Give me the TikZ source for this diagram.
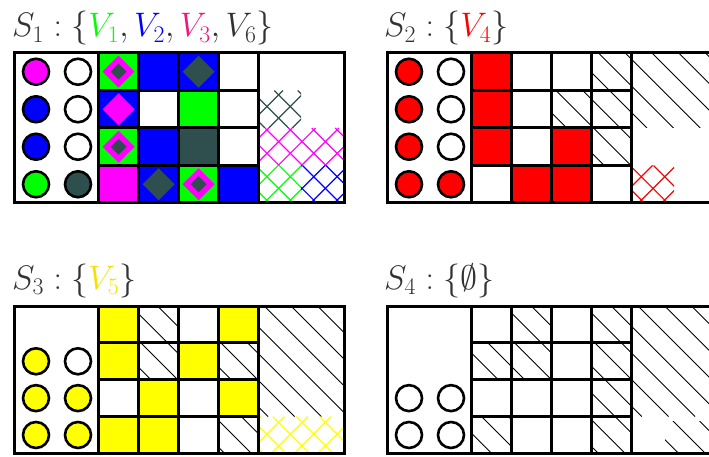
\RequirePackage{fix-cm}
\documentclass[tikz,border=0pt]{standalone}
\definecolor{vgreen}{RGB}{0,255,0}
\definecolor{vblue}{RGB}{0,0,255}
\definecolor{vmag}{RGB}{255,0,255}
\definecolor{vgray}{RGB}{47,79,79}
\definecolor{vred}{RGB}{255,0,0}
\definecolor{vyel}{RGB}{255,255,0}
\definecolor{vyeltxt}{RGB}{245,225,0}
\definecolor{vpink}{RGB}{238,24,122}
\definecolor{titlegray}{RGB}{50,50,50}

% filled grid cell: col,row,color
\newcommand\pcell[3]{\fill[#3] ({\ox+58.5+40*#1},{\oy+\rh*(#2-1)}) rectangle ++(40,\rh);}
% diamond in a cell: col,row,color,half diagonal
\newcommand\pdiam[4]{\fill[#3] ({\ox+78.5+40*#1},{\oy+\rh*(#2-0.5)}) ++(-#4,0) -- ++(#4,#4) -- ++(#4,-#4) -- ++(-#4,-#4) -- cycle;}
% ball in left region: col,row,color
\newcommand\pball[3]{\filldraw[ballstyle,fill=#3] ({\ox+36+42*(#1-1)},{\oy+\rh*(#2-0.5)}) circle (13);}
% single hatching: style,x1,y1,x2,y2
\newcommand\phatch[5]{%
  \pgfmathsetmacro\hxa{#2}\pgfmathsetmacro\hya{#3}\pgfmathsetmacro\hxb{#4}\pgfmathsetmacro\hyb{#5}%
  \pgfmathtruncatemacro\kmin{floor((\hxa-\hyb-11.6)/26.7)}%
  \pgfmathtruncatemacro\kmax{ceil((\hxb-\hya-11.6)/26.7)}%
  \begin{scope}
    \clip (\hxa,\hya) rectangle (\hxb,\hyb);
    \foreach \k in {\kmin,...,\kmax}{%
      \draw[#1] ({11.6+26.7*\k+\hya},\hya) -- ({11.6+26.7*\k+\hyb},\hyb);
    }
  \end{scope}}
% cross hatching: style,x1,y1,x2,y2
\newcommand\pcross[5]{%
  \pgfmathsetmacro\hxa{#2}\pgfmathsetmacro\hya{#3}\pgfmathsetmacro\hxb{#4}\pgfmathsetmacro\hyb{#5}%
  \pgfmathtruncatemacro\kmin{floor((\hxa-\hyb-20)/23.4)}%
  \pgfmathtruncatemacro\kmax{ceil((\hxb-\hya-20)/23.4)}%
  \pgfmathtruncatemacro\jmin{floor((\hxa+\hya-22.4)/23.4)}%
  \pgfmathtruncatemacro\jmax{ceil((\hxb+\hyb-22.4)/23.4)}%
  \begin{scope}
    \clip (\hxa,\hya) rectangle (\hxb,\hyb);
    \foreach \k in {\kmin,...,\kmax}{%
      \draw[#1] ({20+23.4*\k+\hya},\hya) -- ({20+23.4*\k+\hyb},\hyb);
    }
    \foreach \k in {\jmin,...,\jmax}{%
      \draw[#1] ({22.4+23.4*\k-\hya},\hya) -- ({22.4+23.4*\k-\hyb},\hyb);
    }
  \end{scope}}
% hatched cell: col,row
\newcommand\phcell[2]{\phatch{hatchline}{\ox+58.5+40*#1}{\oy+\rh*(#2-1)}{\ox+98.5+40*#1}{\oy+\rh*#2}}
% frame and grid of a panel
\newcommand\pframe{%
  \draw[gridline] ({\ox+14},\oy) rectangle ({\ox+344},{\oy+4*\rh});
  \foreach \c in {0,...,4}{\draw[gridline] ({\ox+98.5+40*\c},\oy) -- ++(0,{4*\rh});}
  \foreach \r in {1,2,3}{\draw[gridline] ({\ox+98.5},{\oy+\rh*\r}) -- ++(160,0);}
}

\begin{document}
\begin{tikzpicture}[x=1pt,y=-1pt,
  hatchline/.style={black,line width=0.9pt},
  crossline/.style={line width=1.2pt},
  gridline/.style={black,line width=3pt},
  ballstyle/.style={draw=black,line width=2.6pt},
  titlestyle/.style={anchor=base west,inner sep=0pt,text=titlegray,font=\fontsize{34}{40}\selectfont}]
\useasboundingbox (0,0) rectangle (709,457);
\fill[white] (0,0) rectangle (709,457);

% ---------- titles ----------
\node[titlestyle] (t1) at (12,37) {$S_1 : \{\textcolor{vgreen}{V_1}, \textcolor{vblue}{V_2}, \textcolor{vpink}{V_3}, V_6\}$};
\node[titlestyle] (t2) at (384,37) {$S_2 : \{\textcolor{vred}{V_4}\}$};
\node[titlestyle] (t3) at (12,289) {$S_3 : \{\textcolor{vyeltxt}{V_5}\}$};
\node[titlestyle] (t4) at (384,289) {$S_4 : \{\emptyset\}$};

% ---------- panel 1 ----------
\def\ox{0}\def\oy{53}\def\rh{37.5}
\pcell{1}{1}{vgreen}\pdiam{1}{1}{vmag}{16}\pdiam{1}{1}{vgray}{8}
\pcell{2}{1}{vblue}
\pcell{3}{1}{vblue}\pdiam{3}{1}{vgray}{16}
\pcell{1}{2}{vblue}\pdiam{1}{2}{vmag}{16}
\pcell{3}{2}{vgreen}
\pcell{1}{3}{vgreen}\pdiam{1}{3}{vmag}{16}\pdiam{1}{3}{vgray}{8}
\pcell{2}{3}{vblue}
\pcell{3}{3}{vgray}
\pcell{1}{4}{vmag}
\pcell{2}{4}{vblue}\pdiam{2}{4}{vgray}{16}
\pcell{3}{4}{vgreen}\pdiam{3}{4}{vmag}{16}\pdiam{3}{4}{vgray}{8}
\pcell{4}{4}{vblue}
\pcross{crossline,vgray}{\ox+258.5}{\oy+\rh}{\ox+301}{\oy+2*\rh}
\pcross{crossline,vmag}{\ox+258.5}{\oy+2*\rh}{\ox+344}{\oy+3*\rh}
\pcross{crossline,vgreen}{\ox+258.5}{\oy+3*\rh}{\ox+301}{\oy+4*\rh}
\pcross{crossline,vblue}{\ox+301}{\oy+3*\rh}{\ox+344}{\oy+4*\rh}
\pframe
\pball{1}{1}{vmag}\pball{2}{1}{white}
\pball{1}{2}{vblue}\pball{2}{2}{white}
\pball{1}{3}{vblue}\pball{2}{3}{white}
\pball{1}{4}{vgreen}\pball{2}{4}{vgray}

% ---------- panel 2 ----------
\def\ox{373}\def\oy{53}\def\rh{37.5}
\pcell{1}{1}{vred}\phcell{4}{1}
\pcell{1}{2}{vred}\phcell{3}{2}\phcell{4}{2}
\pcell{1}{3}{vred}\pcell{3}{3}{vred}\phcell{4}{3}
\pcell{2}{4}{vred}\pcell{3}{4}{vred}
\phatch{hatchline}{\ox+258.5}{\oy}{\ox+344}{\oy+2*\rh}
\pcross{crossline,vred}{\ox+258.5}{\oy+3*\rh}{\ox+301}{\oy+4*\rh}
\pframe
\pball{1}{1}{vred}\pball{2}{1}{white}
\pball{1}{2}{vred}\pball{2}{2}{white}
\pball{1}{3}{vred}\pball{2}{3}{white}
\pball{1}{4}{vred}\pball{2}{4}{vred}

% ---------- panel 3 ----------
\def\ox{0}\def\oy{306}\def\rh{36.85}
\pcell{1}{1}{vyel}\phcell{2}{1}\pcell{4}{1}{vyel}
\pcell{1}{2}{vyel}\phcell{2}{2}\pcell{3}{2}{vyel}\phcell{4}{2}
\pcell{2}{3}{vyel}\pcell{4}{3}{vyel}
\pcell{1}{4}{vyel}\pcell{2}{4}{vyel}\phcell{4}{4}
\phatch{hatchline}{\ox+258.5}{\oy}{\ox+344}{\oy+3*\rh}
\pcross{crossline,vyel}{\ox+258.5}{\oy+3*\rh}{\ox+344}{\oy+4*\rh}
\pframe
\pball{1}{2}{vyel}\pball{2}{2}{white}
\pball{1}{3}{vyel}\pball{2}{3}{vyel}
\pball{1}{4}{vyel}\pball{2}{4}{vyel}

% ---------- panel 4 ----------
\def\ox{373}\def\oy{306}\def\rh{36.85}
\phcell{2}{1}\phcell{4}{1}
\phcell{1}{2}\phcell{2}{2}\phcell{4}{2}
\phcell{4}{3}
\phcell{1}{4}\phcell{4}{4}
\phatch{hatchline}{\ox+258.5}{\oy}{\ox+344}{\oy+3*\rh}
\phatch{hatchline}{665}{421}{\ox+344}{\oy+4*\rh}
\pframe
\pball{1}{3}{white}\pball{2}{3}{white}
\pball{1}{4}{white}\pball{2}{4}{white}
\end{tikzpicture}
\end{document}
